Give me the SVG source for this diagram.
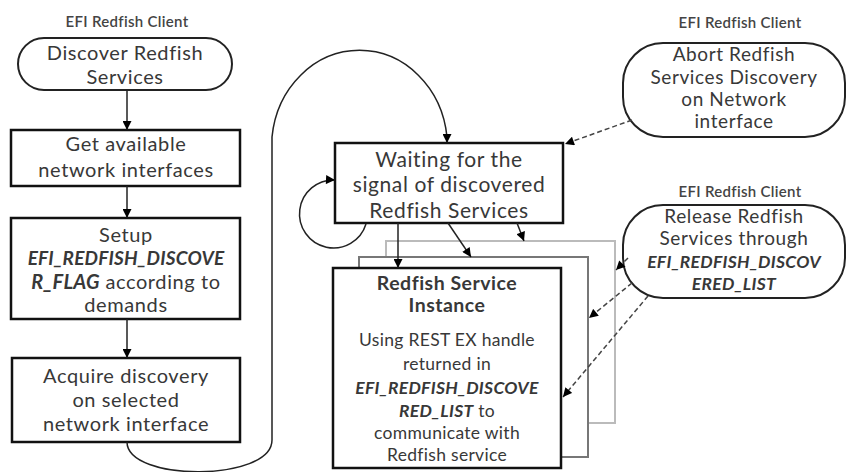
<svg xmlns="http://www.w3.org/2000/svg" width="848" height="472" viewBox="0 0 848 472">
<defs>
<marker id="ah" viewBox="0 0 10 10" refX="10" refY="5" markerWidth="10" markerHeight="9" markerUnits="userSpaceOnUse" orient="auto">
<path d="M0,0 L10,5 L0,10 Z" fill="#000"/>
</marker>
</defs>
<style>
text{font-family:Lato,"Open Sans","Liberation Sans",sans-serif;fill:#383838;text-anchor:middle}
.t{font-size:20px;letter-spacing:0.6px}
.s{font-size:19px;letter-spacing:0.6px}
.f{font-size:17.5px;letter-spacing:0.3px}
.lbl{font-size:15px;fill:#444;font-weight:600;letter-spacing:0.3px}
.bi{font-weight:bold;font-style:italic}
.b{font-weight:bold}
.box{fill:#fff;stroke:#111;stroke-width:2.5}
.term{fill:#fff;stroke:#222;stroke-width:2}
.c{fill:none;stroke:#222;stroke-width:1.5}
.d{fill:none;stroke:#444;stroke-width:1.5;stroke-dasharray:5 3}
</style>
<rect width="848" height="472" fill="#fff"/>

<g id="labels">
<text class="lbl" x="127" y="27">EFI Redfish Client</text>
<text class="lbl" x="740" y="28">EFI Redfish Client</text>
<text class="lbl" x="740" y="197">EFI Redfish Client</text>
</g>

<g id="discover">
<rect class="term" x="18" y="38" width="214" height="52" rx="26"/>
<text class="t" x="125" y="60">Discover Redfish</text>
<text class="t" x="125" y="84">Services</text>
</g>

<g id="getnics">
<rect class="box" x="11" y="130" width="229" height="56"/>
<text class="t" x="126" y="151">Get available</text>
<text class="t" x="126" y="177">network interfaces</text>
</g>

<g id="setup">
<rect class="box" x="11" y="218" width="229" height="101"/>
<text class="t" x="126" y="242">Setup</text>
<text class="bi" x="126" y="265" style="font-size:19px;letter-spacing:0.2px">EFI_REDFISH_DISCOVE</text>
<text class="t" x="126" y="289"><tspan class="bi" style="letter-spacing:0.2px">R_FLAG</tspan> according to</text>
<text class="t" x="126" y="312">demands</text>
</g>

<g id="acquire">
<rect class="box" x="12" y="358" width="228" height="84"/>
<text class="t" x="126" y="383">Acquire discovery</text>
<text class="t" x="126" y="407">on selected</text>
<text class="t" x="126" y="431">network interface</text>
</g>

<g id="waiting">
<rect class="box" x="335" y="143" width="228" height="80"/>
<text class="t" x="449" y="167" style="font-size:21px">Waiting for the</text>
<text class="t" x="449" y="192" style="font-size:21px">signal of discovered</text>
<text class="t" x="449" y="218" style="font-size:21px">Redfish Services</text>
</g>

<g id="instances">
<rect x="386" y="241" width="229" height="182" fill="#fff" stroke="#bbb" stroke-width="2"/>
<rect x="359" y="257" width="229" height="200" fill="#fff" stroke="#777" stroke-width="2"/>
<rect class="box" x="333" y="268" width="228" height="200"/>
<text class="b" x="447" y="290" style="font-size:19.5px;letter-spacing:0.5px">Redfish Service</text>
<text class="b" x="447" y="312" style="font-size:19.5px;letter-spacing:0.5px">Instance</text>
<text class="f" x="447" y="346">Using REST EX handle</text>
<text class="f" x="447" y="370">returned in</text>
<text class="f bi" x="447" y="394">EFI_REDFISH_DISCOVE</text>
<text class="f" x="447" y="417"><tspan class="bi">RED_LIST</tspan> to</text>
<text class="f" x="447" y="439">communicate with</text>
<text class="f" x="447" y="461">Redfish service</text>
</g>

<g id="abort">
<rect class="term" x="623" y="43" width="222" height="94" rx="40"/>
<text class="s" x="734" y="61">Abort Redfish</text>
<text class="s" x="734" y="84">Services Discovery</text>
<text class="s" x="734" y="106">on Network</text>
<text class="s" x="734" y="128">interface</text>
</g>

<g id="release">
<rect class="term" x="623" y="205" width="222" height="93" rx="40"/>
<text class="s" x="734" y="223">Release Redfish</text>
<text class="s" x="734" y="245">Services through</text>
<text class="f bi" x="734" y="268">EFI_REDFISH_DISCOV</text>
<text class="f bi" x="734" y="290">ERED_LIST</text>
</g>

<g id="connectors">
<line class="c" x1="127" y1="90" x2="127" y2="130" marker-end="url(#ah)"/>
<line class="c" x1="127" y1="186" x2="127" y2="218" marker-end="url(#ah)"/>
<line class="c" x1="127" y1="319" x2="127" y2="358" marker-end="url(#ah)"/>
<path class="c" d="M127,442 C127,482 272,482 272,440 L272,137 A88,97 0 0 1 447,137 L447,143" marker-end="url(#ah)"/>
<path class="c" d="M366,224 A34,34 0 1 1 335,180" marker-end="url(#ah)"/>
<line class="c" x1="398" y1="223" x2="398" y2="268" marker-end="url(#ah)"/>
<line class="c" x1="448" y1="223" x2="471" y2="257" marker-end="url(#ah)"/>
<line class="c" x1="517" y1="223" x2="524" y2="241" marker-end="url(#ah)"/>
<line class="d" x1="632" y1="120" x2="565" y2="144" marker-end="url(#ah)"/>
<line class="d" x1="628" y1="258" x2="616" y2="270" marker-end="url(#ah)"/>
<line class="d" x1="632" y1="283" x2="589" y2="318" marker-end="url(#ah)"/>
<line class="d" x1="648" y1="296" x2="563" y2="397" marker-end="url(#ah)"/>
</g>
</svg>
